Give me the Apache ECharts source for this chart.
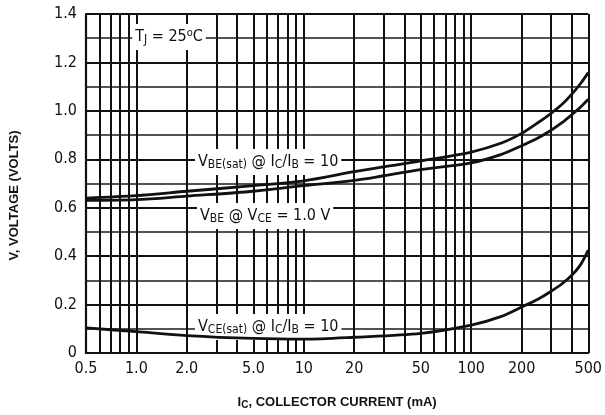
<!DOCTYPE html>
<html><head><meta charset="utf-8">
<script src="https://cdn.jsdelivr.net/npm/echarts@6/dist/echarts.min.js"></script>
<style>html,body{margin:0;padding:0;background:#fff}#c{width:605px;height:415px}</style>
</head><body><div id="c"></div>
<script>
// Collector current (mA) sample points and read-off voltages
const currentMA = [0.5, 1, 2, 5, 10, 20, 30, 50, 100, 150, 200, 250, 300, 350, 400, 450, 500];
const vbeSat    = [0.64, 0.65, 0.668, 0.691, 0.711, 0.749, 0.769, 0.793, 0.83, 0.866, 0.907, 0.951, 0.99, 1.028, 1.07, 1.113, 1.158];
const vbe       = [0.63, 0.633, 0.648, 0.668, 0.691, 0.713, 0.732, 0.757, 0.785, 0.819, 0.856, 0.888, 0.92, 0.952, 0.985, 1.016, 1.048];
const vceCurrent = [0.5, 1, 2, 5, 10, 20, 50, 100, 150, 200, 250, 300, 350, 400, 450, 500];
const vceSat     = [0.104, 0.088, 0.072, 0.06, 0.057, 0.065, 0.081, 0.115, 0.15, 0.19, 0.222, 0.255, 0.287, 0.322, 0.365, 0.425];
const xGridValues = [0.5,0.6,0.7,0.8,0.9,1,2,3,4,5,6,7,8,9,10,20,30,40,50,60,70,80,90,100,200,300,400,500];
const xTickValues = [0.5, 1, 2, 5, 10, 20, 50, 100, 200, 500];
const xTickLabels = ['0.5','1.0','2.0','5.0','10','20','50','100','200','500'];
const yTickLabels = ['0','0.2','0.4','0.6','0.8','1.0','1.2','1.4'];

const INK = '#111';
const NARROW = "'Liberation Sans Narrow','DejaVu Sans Condensed','Liberation Sans',sans-serif";
const SANS = "'Liberation Sans','DejaVu Sans',sans-serif";

function zip(xs, ys){ return xs.map((x,i)=>[x, ys[i]]); }

const richLbl = {
  m:  {fontFamily: NARROW, fontSize: 16, lineHeight: 18, fill: INK, color: INK},
  s:  {fontFamily: NARROW, fontSize: 12, lineHeight: 12, fill: INK, color: INK, verticalAlign: 'bottom'},
  sup:{fontFamily: NARROW, fontSize: 11, lineHeight: 11, fill: INK, color: INK, verticalAlign: 'top'}
};

function lbl(x, y, text, align){
  return {
    type: 'text', x: x, y: y, z: 3, silent: true,
    style: {
      text: text, rich: richLbl, align: align || 'left', verticalAlign: 'middle',
      backgroundColor: '#fff', padding: [4, 3, 4, 3], fill: INK
    }
  };
}

const chart = echarts.init(document.getElementById('c'), null, {renderer: 'canvas'});
chart.setOption({
  animation: false,
  backgroundColor: '#fff',
  grid: {left: 82, right: 10, top: 14, bottom: 55, containLabel: false},
  xAxis: {
    type: 'log', logBase: 10, min: 0.5, max: 500,
    name: '{m|I}{s|C}{m|, COLLECTOR CURRENT (mA)}',
    nameLocation: 'middle', nameGap: 41,
    nameTextStyle: {
      rich: {
        m: {fontFamily: SANS, fontSize: 13, fontWeight: 'bold', color: INK, lineHeight: 16},
        s: {fontFamily: SANS, fontSize: 10, fontWeight: 'bold', color: INK, lineHeight: 10, verticalAlign: 'bottom'}
      }
    },
    axisLine: {show: true, lineStyle: {color: INK, width: 2}},
    axisTick: {show: false},
    splitLine: {show: false},
    minorSplitLine: {show: false},
    axisLabel: {
      customValues: xTickValues,
      color: INK, fontFamily: NARROW, fontSize: 16, margin: 8,
      formatter: function(v){
        const i = xTickValues.findIndex(t => Math.abs(t - v) / t < 1e-6);
        return i >= 0 ? xTickLabels[i] : '';
      }
    }
  },
  yAxis: {
    type: 'value', min: 0, max: 1.4, interval: 0.2,
    name: 'V, VOLTAGE (VOLTS)', nameLocation: 'middle', nameGap: 65,
    nameTextStyle: {fontFamily: SANS, fontSize: 13, fontWeight: 'bold', color: INK, padding: [0, 24, 0, 0]},
    axisLine: {show: true, lineStyle: {color: INK, width: 2.2}},
    axisTick: {show: false},
    axisLabel: {
      color: INK, fontFamily: NARROW, fontSize: 16, margin: 9,
      formatter: function(v){ return yTickLabels[Math.round(v / 0.2)]; }
    },
    splitLine: {show: true, lineStyle: {color: INK, width: 2}},
    minorTick: {show: false, splitNumber: 2},
    minorSplitLine: {show: true, lineStyle: {color: '#1a1a1a', width: 1.6}}
  },
  graphic: [
    lbl(169, 37, '{m|T}{s|J}{m| = 25}{sup|o}{m|C}', 'center'),
    lbl(195, 162, '{m|V}{s|BE(sat)}{m| @ I}{s|C}{m|/I}{s|B}{m| = 10}'),
    lbl(197, 216, '{m|V}{s|BE}{m| @ V}{s|CE}{m| = 1.0 V}'),
    lbl(195, 327, '{m|V}{s|CE(sat)}{m| @ I}{s|C}{m|/I}{s|B}{m| = 10}')
  ],
  series: [
    {
      name: 'VBE(sat)', type: 'line', data: zip(currentMA, vbeSat), smooth: 0.3,
      symbol: 'none', z: 4, lineStyle: {color: INK, width: 2.8}
    },
    {
      name: 'VBE', type: 'line', data: zip(currentMA, vbe), smooth: 0.3,
      symbol: 'none', z: 4, lineStyle: {color: INK, width: 2.8}
    },
    {
      name: 'VCE(sat)', type: 'line', data: zip(vceCurrent, vceSat), smooth: 0.3,
      symbol: 'none', z: 4, lineStyle: {color: INK, width: 2.8},
      markLine: {
        silent: true, z: 1, symbol: ['none', 'none'], label: {show: false},
        lineStyle: {color: INK, width: 2, type: 'solid'},
        emphasis: {disabled: true},
        data: xGridValues.map(v => ({xAxis: v}))
      }
    }
  ]
});
</script></body></html>
